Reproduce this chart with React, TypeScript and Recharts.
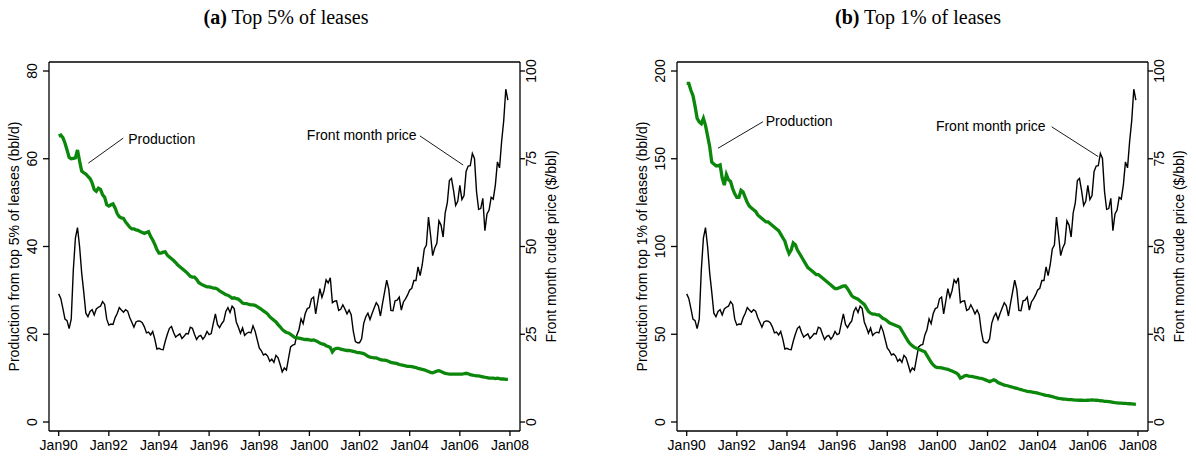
import React from 'react';
import { ComposedChart, Line, XAxis, YAxis, ReferenceLine, ReferenceDot } from 'recharts';

// Monthly observations, Jan 1990 .. Dec 2007 (index 0 = Jan 1990)
const xTickMonths = [0, 24, 48, 72, 96, 120, 144, 168, 192, 216];
const xTickLabels = ['Jan90', 'Jan92', 'Jan94', 'Jan96', 'Jan98', 'Jan00', 'Jan02', 'Jan04', 'Jan06', 'Jan08'];

// Front month crude price ($/bbl)
const frontMonthPrice = [
  36.5, 35.2, 32.4, 29.3, 28.9, 26.6, 29.3, 43.3, 52.4, 55.4, 50.0, 42.5,
  37.0, 31.0, 30.0, 31.5, 32.0, 30.5, 32.2, 32.7, 33.0, 34.3, 33.5, 29.3,
  27.6, 27.9, 27.8, 29.7, 30.9, 32.6, 31.9, 31.3, 32.0, 31.6, 29.8, 28.4,
  27.0, 28.5, 28.8, 28.7, 28.3, 27.1, 25.4, 25.6, 24.8, 25.8, 23.6, 20.8,
  21.0, 20.7, 20.6, 23.0, 25.0, 26.7, 27.2, 25.5, 24.2, 24.7, 25.1, 23.8,
  24.4, 25.2, 25.1, 27.0, 26.7, 25.0, 23.5, 24.4, 24.7, 23.6, 24.4, 25.8,
  24.9, 25.2, 28.1, 30.8, 27.8, 26.9, 28.0, 28.8, 31.5, 32.6, 31.2, 33.0,
  32.3, 28.5, 27.0, 25.3, 26.8, 24.7, 25.3, 25.6, 25.4, 27.4, 25.9, 23.5,
  21.1, 20.3, 19.1, 19.4, 18.8, 17.3, 17.9, 17.0, 19.0, 18.3, 16.4, 14.3,
  15.4, 14.8, 18.1, 21.4, 21.9, 22.1, 24.8, 26.3, 29.4, 28.0, 30.9, 32.3,
  32.6, 35.1, 35.6, 30.8, 34.4, 38.0, 35.5, 37.4, 40.5, 39.6, 41.1, 34.0,
  34.4, 34.5, 31.8, 32.1, 33.4, 32.2, 30.8, 31.9, 30.6, 25.9, 22.9, 22.6,
  22.6, 23.7, 28.1, 30.0, 31.0, 29.2, 30.9, 32.5, 34.0, 33.1, 30.2, 33.8,
  37.1, 40.4, 37.8, 31.8, 31.7, 34.5, 34.7, 35.6, 31.9, 34.2, 35.1, 36.2,
  37.6, 38.1, 40.3, 40.3, 44.2, 41.7, 44.8, 49.3, 50.4, 58.4, 53.2, 47.4,
  49.6, 50.9, 57.3, 56.1, 52.7, 59.6, 62.4, 68.8, 69.4, 65.9, 61.7, 62.9,
  67.4, 63.4, 64.5, 71.4, 72.9, 73.0, 76.5, 75.1, 65.6, 60.6, 60.8, 63.7,
  54.5, 59.3, 60.4, 64.0, 63.5, 67.5, 74.1, 72.4, 79.9, 85.8, 94.8, 91.7,
];

// Production from top 5% of leases (bbl/d)
const prodTop5 = [
  65.2, 65.4, 64.8, 63.6, 62.0, 60.3, 60.0, 60.1, 60.2, 62.0, 59.5, 57.2,
  56.8, 56.5, 56.0, 55.5, 54.5, 53.0, 52.6, 53.3, 53.0, 51.8, 51.2, 49.5,
  49.2, 49.5, 49.7, 48.8, 47.5, 46.8, 46.5, 46.4, 45.6, 45.0, 44.4, 44.0,
  44.0, 43.8, 43.7, 43.4, 43.2, 43.0, 43.2, 43.4, 42.3, 41.5, 40.5, 39.3,
  38.5, 38.5, 38.7, 38.8, 38.0, 37.6, 37.2, 36.8, 36.3, 35.8, 35.4, 35.0,
  34.6, 34.2, 33.7, 33.2, 33.0, 33.0, 32.5, 31.8, 31.5, 31.2, 31.0, 30.8,
  30.8, 30.7, 30.5, 30.5, 30.3, 29.9, 29.6, 29.3, 29.0, 28.9, 28.6, 28.2,
  28.3, 28.1, 28.0, 27.6, 27.1, 27.0, 27.0, 26.8, 26.7, 26.7, 26.6, 26.3,
  26.0, 25.7, 25.3, 25.0, 24.6, 24.0, 23.6, 23.2, 22.8, 22.2, 21.7, 21.1,
  20.7, 20.4, 20.3, 20.0, 19.6, 19.3, 19.2, 19.1, 19.0, 18.9, 18.8, 18.8,
  18.7, 18.6, 18.7, 18.5, 18.3, 18.0, 17.8, 17.7, 17.4, 17.2, 17.0, 16.0,
  16.6, 16.8, 16.8, 16.6, 16.5, 16.4, 16.3, 16.3, 16.2, 16.1, 16.0, 15.8,
  15.8, 15.7, 15.6, 15.3, 15.0, 14.8, 14.7, 14.6, 14.6, 14.4, 14.2, 14.1,
  14.1, 14.0, 13.8, 13.6, 13.5, 13.4, 13.3, 13.1, 13.0, 12.9, 12.8, 12.7,
  12.7, 12.6, 12.5, 12.4, 12.2, 12.1, 12.0, 11.9, 11.7, 11.5, 11.3, 11.2,
  11.4, 11.6, 11.7, 11.5, 11.3, 11.1, 11.0, 10.9, 10.9, 10.9, 10.9, 10.9,
  10.9, 10.9, 11.0, 11.1, 11.0, 10.8, 10.7, 10.6, 10.5, 10.5, 10.4, 10.3,
  10.2, 10.1, 10.0, 10.0, 10.0, 9.9, 10.0, 9.9, 9.8, 9.8, 9.7, 9.7,
];

// Production from top 1% of leases (bbl/d)
const prodTop1 = [
  193, 193, 189, 186, 180, 173, 171, 170, 173, 169, 163, 157,
  148, 147, 146, 146, 146.5, 139, 135, 141, 138, 137, 133, 130,
  128, 128, 132, 131, 128, 125, 123, 122, 121, 120, 118, 117,
  116, 115, 114, 114, 113, 112, 111, 110, 109, 107, 105, 103,
  99, 96, 98, 102, 101, 98, 96, 94, 92, 90, 88, 87,
  86, 85, 84, 84, 83, 82, 81, 80, 79, 78, 77, 76,
  76, 76.5, 77, 77.5, 77.5, 76, 74, 72, 71, 70.5, 70, 69,
  68, 67, 65, 63, 62, 61.5, 61.5, 61, 61, 60, 59, 58.5,
  57.5, 56.5, 56, 55.5, 55, 54.5, 54, 52, 50, 48, 46, 44.5,
  43.5, 42.5, 42, 41.5, 41, 40.5, 40, 38, 36, 34, 32.5, 31.5,
  31, 31, 30.8, 30.5, 30.2, 30, 29.5, 29, 28.5, 28, 27, 25,
  25.5, 26.3, 26.5, 26.2, 26, 25.8, 25.5, 25.3, 25, 24.8, 24.5, 24,
  23.5, 23, 23.5, 24, 23.5, 22.5, 22, 21.5, 21, 20.8, 20.5, 20.1,
  19.8, 19.5, 19.2, 18.8, 18.5, 18.1, 17.8, 17.5, 17.3, 17.1, 16.9, 16.7,
  16.4, 16.1, 15.8, 15.5, 15.2, 15, 14.7, 14.4, 14.1, 13.8, 13.5, 13.3,
  13.1, 13, 12.9, 12.8, 12.7, 12.6, 12.5, 12.5, 12.4, 12.4, 12.3, 12.3,
  12.4, 12.5, 12.6, 12.5, 12.4, 12.3, 12.1, 12, 11.8, 11.7, 11.6, 11.4,
  11.2, 11, 10.9, 10.8, 10.7, 10.6, 10.6, 10.5, 10.4, 10.3, 10.2, 10.1,
];

const priceTicks = [0, 25, 50, 75, 100];
const prodTicksA = [0, 20, 40, 60, 80];
const prodTicksB = [0, 50, 100, 150, 200];

const FONT = '"Liberation Sans", Arial, Helvetica, sans-serif';
const GREEN = '#0b870b';

const makeRows = (prod: number[]) =>
  frontMonthPrice.map((p, i) => ({ m: i, price: p, prod: prod[i] }));

const rowsA = makeRows(prodTop5);
const rowsB = makeRows(prodTop1);

const LeftTick = (props: any) => {
  const { x, y, payload } = props;
  const cx = x - 9.3;
  return (
    <text x={cx} y={y} dy="0.35em" textAnchor="middle" transform={`rotate(-90 ${cx} ${y})`}
      fontFamily={FONT} fontSize={14} fill="#000">{payload.value}</text>
  );
};
const RightTick = (props: any) => {
  const { x, y, payload } = props;
  const cx = x + 4.5;
  return (
    <text x={cx} y={y} dy="0.35em" textAnchor="middle" transform={`rotate(-90 ${cx} ${y})`}
      fontFamily={FONT} fontSize={14} fill="#000">{payload.value}</text>
  );
};
const BottomTick = (props: any) => {
  const { x, y, payload } = props;
  const idx = xTickMonths.indexOf(payload.value);
  return (
    <text x={x} y={y + 11.5} textAnchor="middle" fontFamily={FONT} fontSize={14} fill="#000">
      {idx >= 0 ? xTickLabels[idx] : ''}
    </text>
  );
};

const axisTitle = (text: string, cx: number) => (props: any) => {
  const vb = props.viewBox || {};
  const cy = vb.height ? vb.y + vb.height / 2 : 246.5;
  return (
    <text x={cx} y={cy} dy="0.35em" textAnchor="middle" transform={`rotate(-90 ${cx} ${cy})`}
      fontFamily={FONT} fontSize={14} fill="#000">{text}</text>
  );
};

type Anno = {
  axis: 'left' | 'right';
  text: string;
  from: { x: number; y: number };
  to: { x: number; y: number };
  at: { x: number; y: number };
  anchor: 'start' | 'end';
};

const annosA: Anno[] = [
  { axis: 'left', text: 'Production', from: { x: 14.2, y: 59.0 }, to: { x: 30.9, y: 64.7 }, at: { x: 33.3, y: 64.4 }, anchor: 'start' },
  { axis: 'right', text: 'Front month price', from: { x: 172.9, y: 81.5 }, to: { x: 193.6, y: 73.2 }, at: { x: 171.3, y: 81.8 }, anchor: 'end' },
];
const annosB: Anno[] = [
  { axis: 'left', text: 'Production', from: { x: 15.0, y: 156 }, to: { x: 36.5, y: 171.1 }, at: { x: 37.8, y: 171.5 }, anchor: 'start' },
  { axis: 'right', text: 'Front month price', from: { x: 174.7, y: 84.1 }, to: { x: 197.0, y: 75.6 }, at: { x: 171.8, y: 84.4 }, anchor: 'end' },
];

const X_DOMAIN: [number, number] = [-4.64, 220.8];
const PRICE_DOMAIN: [number, number] = [-2.56, 102.56];

function Panel(props: {
  left: number; rows: any[]; prodDomain: [number, number]; prodTicks: number[];
  leftTitle: string; annos: Anno[];
}) {
  const { left, rows, prodDomain, prodTicks, leftTitle, annos } = props;
  return (
    <div style={{ position: 'absolute', left, top: 0 }}>
      <ComposedChart width={598} height={456} data={rows} margin={{ top: 62, right: 20, bottom: 0, left: 0 }}>
        <XAxis dataKey="m" type="number" domain={X_DOMAIN} ticks={xTickMonths} allowDataOverflow
          interval={0} height={25} tickSize={5} tickMargin={2} stroke="#000" strokeWidth={1.3}
          tick={<BottomTick />} />
        <YAxis yAxisId="left" orientation="left" domain={prodDomain} ticks={prodTicks} allowDataOverflow
          width={49} tickSize={6} tickMargin={2} stroke="#000" strokeWidth={1.3} tick={<LeftTick />}
          label={axisTitle(leftTitle, 14)} />
        <YAxis yAxisId="right" orientation="right" domain={PRICE_DOMAIN} ticks={priceTicks} allowDataOverflow
          width={58} tickSize={5} tickMargin={2} stroke="#000" strokeWidth={1.3} tick={<RightTick />}
          label={axisTitle('Front month crude price ($/bbl)', 551)} />
        <ReferenceLine yAxisId="left" y={prodDomain[1]} stroke="#000" strokeWidth={1.3} ifOverflow="visible" />
        <Line yAxisId="right" dataKey="price" type="linear" stroke="#000" strokeWidth={1.4} dot={false}
          isAnimationActive={false} />
        <Line yAxisId="left" dataKey="prod" type="linear" stroke={GREEN} strokeWidth={3.3} dot={false}
          isAnimationActive={false} />
        {annos.map((a, i) => (
          <ReferenceLine key={'l' + i} yAxisId={a.axis} segment={[a.from, a.to]} stroke="#000" strokeWidth={0.9}
            ifOverflow="visible" />
        ))}
        {annos.map((a, i) => (
          <ReferenceDot key={'t' + i} yAxisId={a.axis} x={a.at.x} y={a.at.y} r={0} fill="none" stroke="none"
            ifOverflow="visible"
            label={(lp: any) => {
              const vb = lp.viewBox || {};
              return (
                <text x={vb.x} y={vb.y} dy="0.35em" textAnchor={a.anchor} fontFamily={FONT} fontSize={14} fill="#000">
                  {a.text}
                </text>
              );
            }} />
        ))}
      </ComposedChart>
    </div>
  );
}

const titleStyle: React.CSSProperties = {
  position: 'absolute', top: 6, fontFamily: '"Liberation Serif", "DejaVu Serif", serif', fontSize: 20,
  lineHeight: '22px', textAlign: 'center', color: '#000', whiteSpace: 'nowrap',
};

export default function App() {
  return (
    <div style={{ position: 'absolute', left: 0, top: 0, width: 1196, height: 456, background: '#fff', overflow: 'hidden' }}>
      <div style={{ ...titleStyle, left: 0, width: 572 }}><b>(a)</b> Top 5% of leases</div>
      <div style={{ ...titleStyle, left: 628, width: 580 }}><b>(b)</b> Top 1% of leases</div>
      <Panel left={0} rows={rowsA} prodDomain={[-2.05, 82.05]} prodTicks={prodTicksA}
        leftTitle="Production from top 5% of leases (bbl/d)" annos={annosA} />
      <Panel left={628} rows={rowsB} prodDomain={[-5.13, 205.13]} prodTicks={prodTicksB}
        leftTitle="Production from top 1% of leases (bbl/d)" annos={annosB} />
    </div>
  );
}
